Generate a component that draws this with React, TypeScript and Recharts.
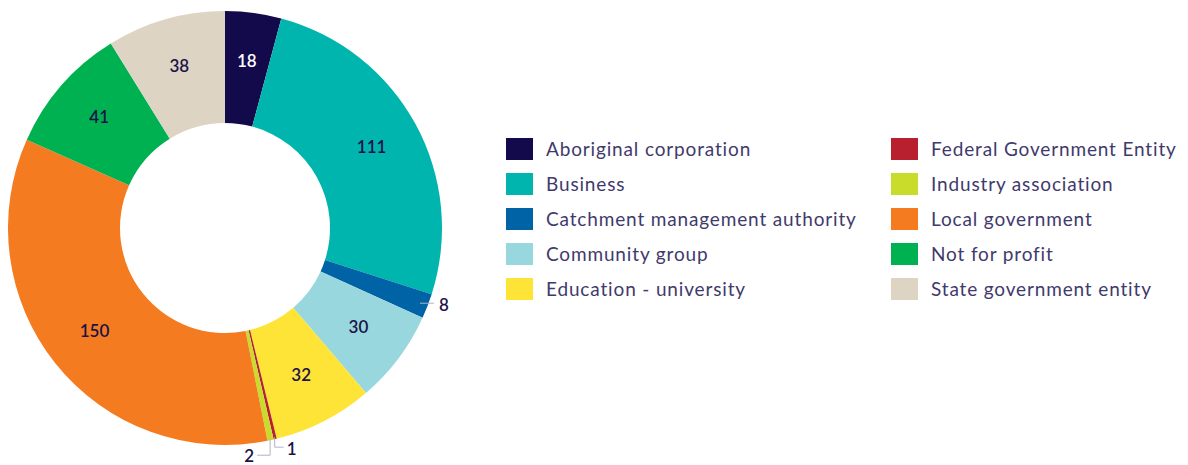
import { PieChart, Pie, Cell, Legend } from 'recharts';

const names = [
    'Aboriginal corporation',
    'Business',
    'Catchment management authority',
    'Community group',
    'Education - university',
    'Federal Government Entity',
    'Industry association',
    'Local government',
    'Not for profit',
    'State government entity',
];
const counts = [18, 111, 8, 30, 32, 1, 2, 150, 41, 38];
const colors = [
    '#130a4b',
    '#00b5ae',
    '#0063a6',
    '#98d7dd',
    '#ffe438',
    '#b9202f',
    '#c9dc2c',
    '#f47b20',
    '#00b151',
    '#ddd4c4',
];

const data = names.map((name, i) => ({ name, value: counts[i] }));

const FONT = 'Lato, sans-serif';
const LABEL_COLOR = '#1c1248';
const LEADER = '#b4b2c8';
const RAD = Math.PI / 180;

const renderLabel = (props: any) => {
    const { cx, cy, midAngle, innerRadius, outerRadius, value, index } = props;
    const cos = Math.cos(-midAngle * RAD);
    const sin = Math.sin(-midAngle * RAD);

    if (value >= 10) {
        const r = (innerRadius + outerRadius) / 2 + 6;
        return (
            <text
                x={cx + r * cos}
                y={cy + r * sin - 2}
                fill={index === 0 ? '#ffffff' : LABEL_COLOR}
                textAnchor="middle"
                dominantBaseline="central"
                fontFamily={FONT}
                fontSize={17}
                fontWeight={600}
            >
                {value}
            </text>
        );
    }

    // small slices get a leader line
    if (index === 2) {
        const sx = cx + (outerRadius - 8) * cos;
        const sy = cy + (outerRadius - 8) * sin;
        return (
            <g>
                <path d={`M${sx},${sy}H${sx + 14}`} stroke={LEADER} fill="none" />
                <text x={sx + 19} y={sy + 1} fill={LABEL_COLOR} dominantBaseline="central"
                    fontFamily={FONT} fontSize={17} fontWeight={600}>{value}</text>
            </g>
        );
    }
    const sx = cx + (outerRadius - 2) * cos;
    const sy = cy + (outerRadius - 2) * sin;
    if (index === 5) {
        return (
            <g>
                <path d={`M${sx},${sy}V${sy + 10}H${sx + 9}`} stroke={LEADER} fill="none" />
                <text x={sx + 12} y={sy + 11} fill={LABEL_COLOR} dominantBaseline="central"
                    fontFamily={FONT} fontSize={17} fontWeight={600}>{value}</text>
            </g>
        );
    }
    return (
        <g>
            <path d={`M${sx},${sy}V${sy + 17}H${sx - 13}`} stroke={LEADER} fill="none" />
            <text x={sx - 16} y={sy + 17} fill={LABEL_COLOR} textAnchor="end" dominantBaseline="central"
                fontFamily={FONT} fontSize={17} fontWeight={600}>{value}</text>
        </g>
    );
};

const renderLegend = () => {
    const rows = [0, 1, 2, 3, 4];
    return (
        <div style={{ display: 'flex', fontFamily: FONT, fontSize: 19, letterSpacing: 0.85, color: '#3f3a6c' }}>
            {[0, 5].map((offset) => (
                <div key={offset} style={{ width: 385 }}>
                    {rows.map((r) => (
                        <div key={r} style={{ display: 'flex', alignItems: 'center', height: 35 }}>
                            <span style={{
                                display: 'inline-block',
                                width: 27,
                                height: 22,
                                background: colors[offset + r],
                                marginRight: 13,
                                flexShrink: 0,
                            }} />
                            <span style={{ whiteSpace: 'nowrap' }}>{names[offset + r]}</span>
                        </div>
                    ))}
                </div>
            ))}
        </div>
    );
};

export default function App() {
    return (
        <PieChart width={1180} height={457} margin={{ top: 0, right: 0, bottom: 0, left: 0 }}>
            <Pie
                data={data}
                dataKey="value"
                nameKey="name"
                cx={217}
                cy={220}
                innerRadius={105}
                outerRadius={217}
                startAngle={90}
                endAngle={-270}
                stroke="none"
                label={renderLabel}
                labelLine={false}
                isAnimationActive={false}
            >
                {data.map((d, i) => (
                    <Cell key={d.name} fill={colors[i]} />
                ))}
            </Pie>
            <Legend
                content={renderLegend}
                wrapperStyle={{ position: 'absolute', left: 498, top: 123, width: 780 }}
            />
        </PieChart>
    );
}
